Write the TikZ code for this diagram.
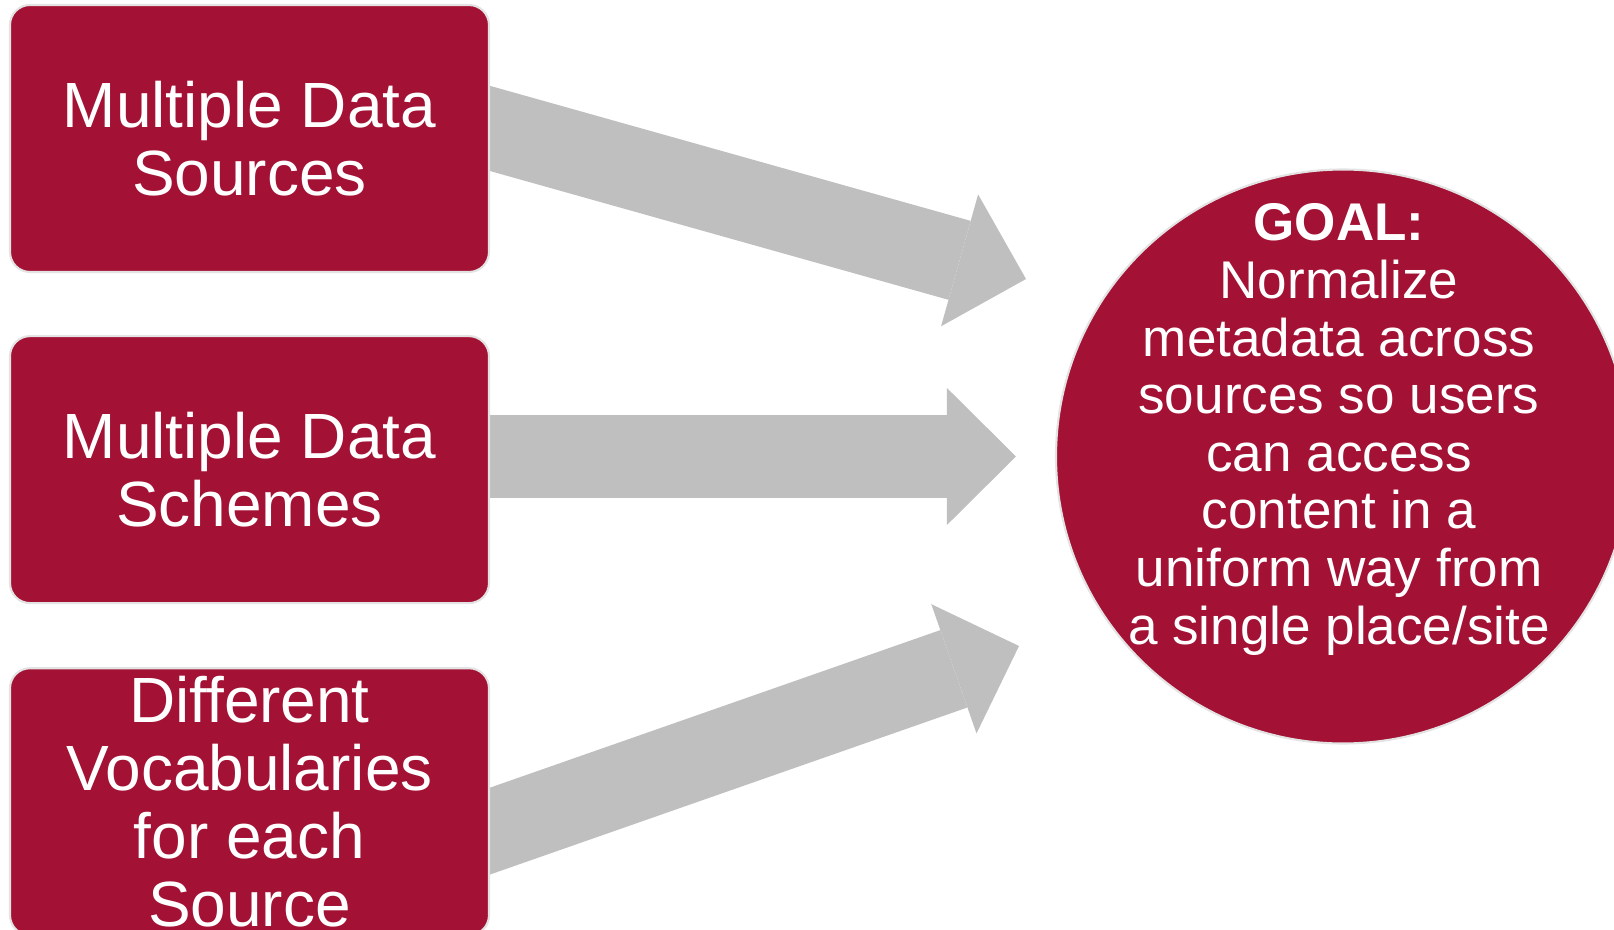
\documentclass[tikz,border=0pt]{standalone}
\usepackage{fontspec}
\setmainfont{Liberation Sans}
\usetikzlibrary{arrows.meta, positioning, calc, backgrounds}
\definecolor{wine}{RGB}{163, 17, 52}
\definecolor{rim}{HTML}{E3E3E3}
\definecolor{shaft}{RGB}{191, 191, 191}

\begin{document}
\begin{tikzpicture}[
		srcbox/.style={draw=rim, line width=0.6pt, fill=wine, rounded corners=0.2cm,
			minimum width=4.79cm, minimum height=2.67cm, inner sep=0pt,
			align=center, text=white, font=\fontsize{18.2}{19.4}\selectfont},
		goalcirc/.style={circle, draw=rim, line width=0.6pt, fill=wine,
			minimum size=5.74cm, inner sep=0pt},
		goaltext/.style={align=center, text=white, inner sep=0pt,
			font=\fontsize{15.1}{16.4}\selectfont},
		blockarrow/.style={draw=shaft, line width=0.82cm,
			-{Triangle[length=0.69cm, width=1.37cm, line width=0pt]}}
	]
			\useasboundingbox (0, 0) rectangle (16.14, 9.29);
			
			\node[srcbox] (src) at (2.495, 7.905) {Multiple Data\\Sources};
			\node[srcbox, below=0.62cm of src] (scheme) {Multiple Data\\Schemes};
			\node[srcbox, below=0.63cm of scheme] (vocab) {Different\\Vocabularies\\for each\\Source};
			
			\node[goalcirc] (goal) at (13.43, 4.725) {};
			\node[goaltext] (goalnote) at ($(goal.center) + (-0.04, 0.27)$) {\textbf{GOAL:}\\Normalize\\metadata across\\sources so users\\can access\\content in a\\uniform way from\\a single place/site};
			
			\coordinate (tail1) at ($(src.east) + (-0.39, 0.21)$);
			\coordinate (tail2) at ($(scheme.east |- goal) + (-0.39, 0)$);
			\coordinate (tail3) at ($(vocab.east) + (-0.39, -0.43)$);
			
			\coordinate (tip1) at (10.26, 6.50);
			\coordinate (tip2) at ($(goal.west) + (-0.39, 0)$);
			\coordinate (tip3) at (10.19, 2.83);
			
			\begin{scope}[on background layer]
				\draw[blockarrow] (tail1) -- (tip1);
				\draw[blockarrow] (tail2) -- (tip2);
				\draw[blockarrow] (tail3) -- (tip3);
			\end{scope}
			
		\end{tikzpicture}
\end{document}
